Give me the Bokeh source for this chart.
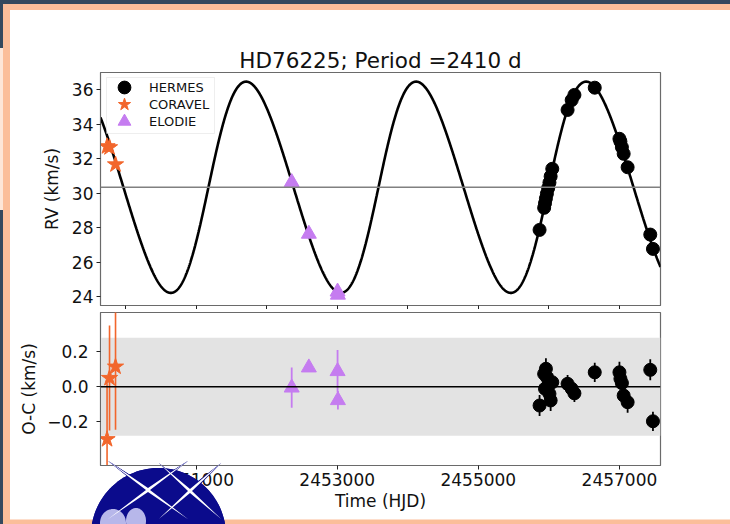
import base64
import numpy as np
from bokeh.plotting import figure
from bokeh.layouts import column
from bokeh.models import (Range1d, FixedTicker, Span, BoxAnnotation, PolyAnnotation, Legend,
                          LegendItem, BasicTickFormatter, InlineStyleSheet)
from bokeh.embed import file_html
from bokeh.resources import INLINE

FONT = "DejaVu Sans"

# ---- orbital solution ----
star_name = "HD76225"
period = 2410.0
ecc = 0.09
omega_deg = 270.0
t_peri = 2455995.0
k_amp = 6.12
gamma = 30.35
oc_band = 0.28

# ---- HERMES ----
hermes_t = [2455868, 2455933, 2455945, 2455958, 2455972, 2455990, 2456008, 2456025, 2456048,
            2456265, 2456323, 2456362, 2456650,
            2457000, 2457014, 2457035, 2457060, 2457116, 2457437, 2457475]
hermes_rv = [27.88, 29.16, 29.42, 29.70, 29.98, 30.30, 30.62, 30.98, 31.42,
             34.83, 35.40, 35.70, 36.12,
             33.16, 33.00, 32.67, 32.29, 31.51, 27.61, 26.78]
hermes_oc = [-0.107, 0.074, -0.011, 0.103, 0.055, 0.007, -0.040, -0.078, 0.026,
             0.017, -0.011, -0.037, 0.083,
             0.083, 0.046, 0.021, -0.050, -0.088, 0.097, -0.197]
hermes_err = [0.06, 0.055, 0.05, 0.06, 0.05, 0.05, 0.055, 0.06, 0.05,
              0.05, 0.05, 0.05, 0.055,
              0.06, 0.055, 0.05, 0.05, 0.06, 0.06, 0.055]

# ---- CORAVEL ----
coravel_t = [2449738, 2449773, 2449858]
coravel_rv = [32.72, 32.66, 31.67]
coravel_oc = [-0.30, 0.05, 0.115]
coravel_err = [0.32, 0.30, 0.36]

# ---- ELODIE ----
elodie_t = [2452355, 2452598, 2453005, 2453010]
elodie_rv = [30.64, 27.65, 24.30, 24.12]
elodie_oc = [-0.005, 0.110, 0.089, -0.077]
elodie_err = [0.115, 0.005, 0.122, 0.053]

# ---- axes ----
time_range = (2449645, 2457582)
rv_range = (23.5, 37.0)
oc_range = (-0.45, 0.425)
time_ticks_top = [2450000, 2451000, 2452000, 2453000, 2454000, 2455000, 2456000, 2457000]
time_ticks = [2451000, 2453000, 2455000, 2457000]
rv_ticks = [24, 26, 28, 30, 32, 34, 36]
oc_ticks = [-0.2, 0.0, 0.2]
oc_tick_labels = ["\u22120.2", "0.0", "0.2"]

ORANGE = "#f2662c"
VIOLET = "#c57cf0"
SPINE = "#6a6a6a"
DARK = "#34495e"
PEACH = "#fbbe9a"
NAVY = "#0b0b8c"


def kepler_rv(t):
    mean_anom = 2 * np.pi * (np.asarray(t, dtype=float) - t_peri) / period
    ecc_anom = mean_anom.copy()
    for _ in range(40):
        ecc_anom -= (ecc_anom - ecc * np.sin(ecc_anom) - mean_anom) / (1 - ecc * np.cos(ecc_anom))
    nu = 2 * np.arctan2(np.sqrt(1 + ecc) * np.sin(ecc_anom / 2),
                        np.sqrt(1 - ecc) * np.cos(ecc_anom / 2))
    w = np.radians(omega_deg)
    return gamma + k_amp * (np.cos(nu + w) + ecc * np.cos(w))


def style_axes(fig):
    fig.outline_line_color = SPINE
    fig.outline_line_width = 1.2
    fig.grid.visible = False
    for ax in list(fig.xaxis) + list(fig.yaxis):
        ax.axis_line_color = SPINE
        ax.major_tick_line_color = "#222222"
        ax.major_tick_in = 0
        ax.major_tick_out = 4
        ax.minor_tick_line_color = None
        ax.major_label_text_font = FONT
        ax.major_label_text_font_size = "17px"
        ax.major_label_text_color = "#111111"
        ax.axis_label_text_font = FONT
        ax.axis_label_text_font_size = "17px"
        ax.axis_label_text_font_style = "normal"
        ax.axis_label_text_color = "#111111"


# ---- slide decoration, painted with CSS around each panel ----
def svg_uri(width, height, body):
    svg = (f'<svg xmlns="http://www.w3.org/2000/svg" width="{width}" height="{height}" '
           f'viewBox="0 0 {width} {height}">{body}</svg>')
    return "url(data:image/svg+xml;base64," + base64.b64encode(svg.encode()).decode() + ")"


def rect(x0, y0, x1, y1, color):
    return f'<rect x="{x0}" y="{y0}" width="{x1 - x0}" height="{y1 - y0}" fill="{color}"/>'


def path(xs, ys, color):
    pts = " ".join(f"{x:.1f},{y:.1f}" for x, y in zip(xs, ys))
    return f'<polygon points="{pts}" fill="{color}"/>'


def star4(cx, cy, length, waist, ang):
    a = np.radians(ang)
    tips = [a, np.pi - a, np.pi + a, 2 * np.pi - a]
    inner = [np.pi / 2, np.pi, 3 * np.pi / 2, 2 * np.pi]
    xs, ys = [], []
    for tip, inn in zip(tips, inner):
        xs.append(cx + length * np.cos(tip)); ys.append(cy + length * np.sin(tip))
        xs.append(cx + waist * np.cos(inn)); ys.append(cy + waist * np.sin(inn))
    return xs, ys


TOP_H, BOT_H = 309, 215

top_deco = (rect(0, 0, 730, 4, DARK) + rect(3, 4, 730, 10, PEACH)
            + rect(0, 0, 3, TOP_H, DARK) + rect(3, 4, 10, TOP_H, PEACH)
            + rect(0, 48, 3, 210, "#fde6d8"))

dy = TOP_H
th = np.linspace(0, 2 * np.pi, 120)
sparkles = [(148, 490 - dy, 50, 36), (190, 491 - dy, 42, 42)]
logo = ""
for cx, cy, ln, ang in sparkles:
    xs, ys = star4(cx, cy, ln, 3.6, ang)
    logo += path(xs, ys, NAVY)
logo += path(158.5 + 67.5 * np.cos(th), 535.5 - dy + 67.5 * np.sin(th), NAVY)
logo += path(113 + 13 * np.cos(th), 523 - dy + 14 * np.sin(th), "#b7b7ea")
logo += path(136 + 10 * np.cos(th), 521 - dy + 13 * np.sin(th), "#b7b7ea")
for cx, cy, ln, ang in sparkles:
    xs, ys = star4(cx, cy, ln, 2.0, ang)
    logo += path(xs, ys, "white")
bot_deco = (rect(0, 0, 3, BOT_H, DARK) + rect(3, 0, 10, BOT_H, PEACH)
            + rect(3, 519.5 - dy, 730, BOT_H, PEACH) + logo)
logo_uri = svg_uri(730, BOT_H, logo)

# ---------------- RV panel ----------------
top = figure(width=730, height=TOP_H, output_backend="svg", toolbar_location=None,
             x_range=Range1d(*time_range), y_range=Range1d(*rv_range),
             min_border_left=100, min_border_right=70, min_border_top=72, min_border_bottom=4)
top.background_fill_alpha = 0
top.border_fill_alpha = 0
top.styles = {"background-color": "white", "background-image": svg_uri(730, TOP_H, top_deco),
              "background-repeat": "no-repeat"}
top.title.text = f"{star_name}; Period ={period:.0f} d"
top.title.text_font = FONT
top.title.text_font_size = "21.5px"
top.title.text_font_style = "normal"
top.title.text_color = "#111111"
top.title.align = "center"
top.title.standoff = 0

style_axes(top)
top.xaxis.ticker = FixedTicker(ticks=time_ticks_top)
top.xaxis.major_label_overrides = {t: "" for t in time_ticks_top}
top.xaxis.major_label_text_font_size = "0px"
top.xaxis.major_label_standoff = 0
top.yaxis.ticker = FixedTicker(ticks=rv_ticks)
top.yaxis.major_label_standoff = 3
top.yaxis.axis_label = "RV (km/s)"
top.yaxis.axis_label_standoff = 7

top.add_layout(Span(location=gamma, dimension="width", line_color="#808080", line_width=1.5))

t_model = np.linspace(time_range[0], time_range[1], 2500)
top.line(t_model, kepler_rv(t_model), line_color="black", line_width=2.6)

r_h = top.scatter(hermes_t, hermes_rv, marker="circle", size=13, color="black")
r_c = top.scatter(coravel_t, coravel_rv, marker="star", size=17, color=ORANGE)
r_e = top.scatter(elodie_t, elodie_rv, marker="triangle", size=15, color=VIOLET)

# legend frame, then one legend row per instrument so the swatches keep their size
top.add_layout(PolyAnnotation(xs=[106, 214, 214, 106], ys=[77, 77, 133, 133],
                              xs_units="canvas", ys_units="canvas",
                              fill_color="white", fill_alpha=0.85,
                              line_color="#c8c8c8", line_width=1))
row_pitch = 17
for i, (name, rend) in enumerate([("HERMES", r_h), ("CORAVEL", r_c), ("ELODIE", r_e)]):
    top.add_layout(Legend(items=[LegendItem(label=name, renderers=[rend])],
                          location=(8, 202 - i * row_pitch), padding=0, spacing=0,
                          glyph_height=32, glyph_width=32, label_standoff=9,
                          label_text_font=FONT, label_text_font_size="13px",
                          label_text_color="#111111",
                          border_line_alpha=0, background_fill_alpha=0))

# ---------------- O-C panel ----------------
bot = figure(width=730, height=BOT_H, output_backend="svg", toolbar_location=None,
             x_range=top.x_range, y_range=Range1d(*oc_range),
             min_border_left=100, min_border_right=70, min_border_top=3, min_border_bottom=59)
bot.background_fill_alpha = 0
bot.border_fill_alpha = 0
bot.styles = {"background-color": "white", "background-image": svg_uri(730, BOT_H, bot_deco),
              "background-repeat": "no-repeat"}
# the emblem is repeated on a layer above the canvas so it covers the axis text beneath it
bot.stylesheets = [InlineStyleSheet(css=(
    ":host::after { content: ''; position: absolute; left: 0; top: 0; "
    f"width: 730px; height: {BOT_H}px; background-image: {logo_uri}; "
    "background-repeat: no-repeat; pointer-events: none; z-index: 5; }"))]
style_axes(bot)
bot.xaxis.ticker = FixedTicker(ticks=time_ticks)
bot.xaxis.formatter = BasicTickFormatter(use_scientific=False)
bot.xaxis.major_label_standoff = 3
bot.xaxis.axis_label = "Time (HJD)"
bot.xaxis.axis_label_standoff = 2
bot.yaxis.ticker = FixedTicker(ticks=oc_ticks)
bot.yaxis.major_label_overrides = {v: s for v, s in zip(oc_ticks, oc_tick_labels)}
bot.yaxis.major_label_standoff = 8
bot.yaxis.axis_label = "O-C (km/s)"
bot.yaxis.axis_label_standoff = 5

bot.add_layout(BoxAnnotation(bottom=-oc_band, top=oc_band, fill_color="#e3e3e3",
                             fill_alpha=1.0, line_alpha=0, level="underlay"))
bot.add_layout(Span(location=0, dimension="width", line_color="black", line_width=1.6))


def errbars(fig, t, y, err, color, width):
    lo = [a - b for a, b in zip(y, err)]
    hi = [a + b for a, b in zip(y, err)]
    fig.segment(x0=t, y0=lo, x1=t, y1=hi, line_color=color, line_width=width)


errbars(bot, coravel_t, coravel_oc, coravel_err, ORANGE, 1.6)
errbars(bot, elodie_t, elodie_oc, elodie_err, VIOLET, 1.8)
errbars(bot, hermes_t, hermes_oc, hermes_err, "black", 1.8)
bot.scatter(coravel_t, coravel_oc, marker="star", size=17, color=ORANGE)
bot.scatter(elodie_t, elodie_oc, marker="triangle", size=15, color=VIOLET)
bot.scatter(hermes_t, hermes_oc, marker="circle", size=13, color="black")

layout = column(top, bot, spacing=0)
open("out.html", "w").write(file_html(layout, INLINE))
